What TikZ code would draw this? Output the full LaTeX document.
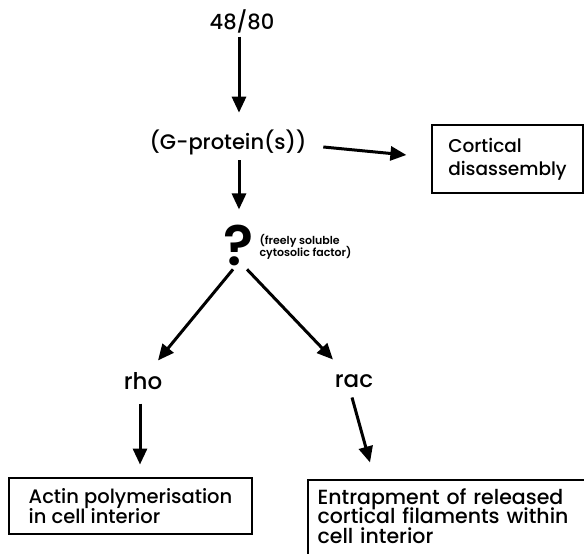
\documentclass[tikz,border=0pt]{standalone}
\usepackage{fontspec}
\setmainfont{Poppins}[UprightFont={* Medium}, BoldFont={* SemiBold}]
\usetikzlibrary{arrows.meta, positioning}
\newcommand\tightlines{\lineskiplimit=-20pt\relax}
\tikzset{
  every picture/.style={line width=1.2pt},
  box/.style={draw, align=left, inner sep=0pt},
  arrow/.style={-{Triangle[length=16pt, width=14pt]}, line width=3pt},
  label/.style={font=\fontsize{21}{24}\selectfont},
  note/.style={font=\fontsize{11}{12}\selectfont\bfseries\tightlines, align=left, inner sep=0pt},
}

\begin{document}
\begin{tikzpicture}[x=1pt, y=1pt]
  \useasboundingbox (0,0) rectangle (584,554);
  % ---------------- top: stimulus and G-protein
  \node[label] (stim) at (242,533) {48/80};
  \node[label] (gprot) at (228,412) {(G-protein(s))};
  \node[box, minimum width=151pt, minimum height=68pt, font=\fontsize{18.5}{23}\selectfont\tightlines] (cortical) at (507.5,395) {Cortical\\disassembly};
  \node[font=\fontsize{56}{56}\selectfont\bfseries] (qmark) at (239,309) {?};
  \node[note, anchor=west] (factor) at (259,307) {(freely soluble\\cytosolic factor)};
  % ---------------- bottom: the two branches
  \node[label, font=\fontsize{23}{24}\selectfont] (rho) at (143,173) {rho};
  \node[label, font=\fontsize{23}{24}\selectfont] (rac) at (354,173) {rac};
  \node[box, minimum width=243pt, minimum height=56pt, font=\fontsize{19.5}{20.5}\selectfont\tightlines] (actin) at (130.5,48) {Actin polymerisation\\in cell interior};
  \node[box, anchor=north west, text width=262pt, inner xsep=9pt, inner ysep=8pt, draw=none, font=\fontsize{20.5}{19.5}\selectfont\tightlines] (entrap) at (308,74)
    {Entrapment of released\\cortical filaments within\\cell interior};
  \draw (entrap.north west) ++(0,-90) |- ++(300,90);
  % ---------------- arrows
  \draw[arrow] (stim.south -| qmark) -- ++(0,-76);
  \draw[arrow] ([xshift=13pt,yshift=-5pt]gprot.east) -- ([xshift=-25pt,yshift=4pt]cortical.west);
  \draw[arrow, shorten <=2pt] (gprot.south -| qmark) -- ++(0,-51);
  \draw[arrow] ([xshift=-6pt]qmark.south) -- ([xshift=15pt,yshift=8pt]rho.north);
  \draw[arrow] ([xshift=8pt]qmark.south) -- ([xshift=-21pt,yshift=11pt]rac.north);
  \draw[arrow] ([xshift=-3pt,yshift=-10pt]rho.south) -- ++(0,-61);
  \draw[arrow] ([xshift=-2pt,yshift=-6pt]rac.south) -- ++(18,-65);
\end{tikzpicture}
\end{document}
